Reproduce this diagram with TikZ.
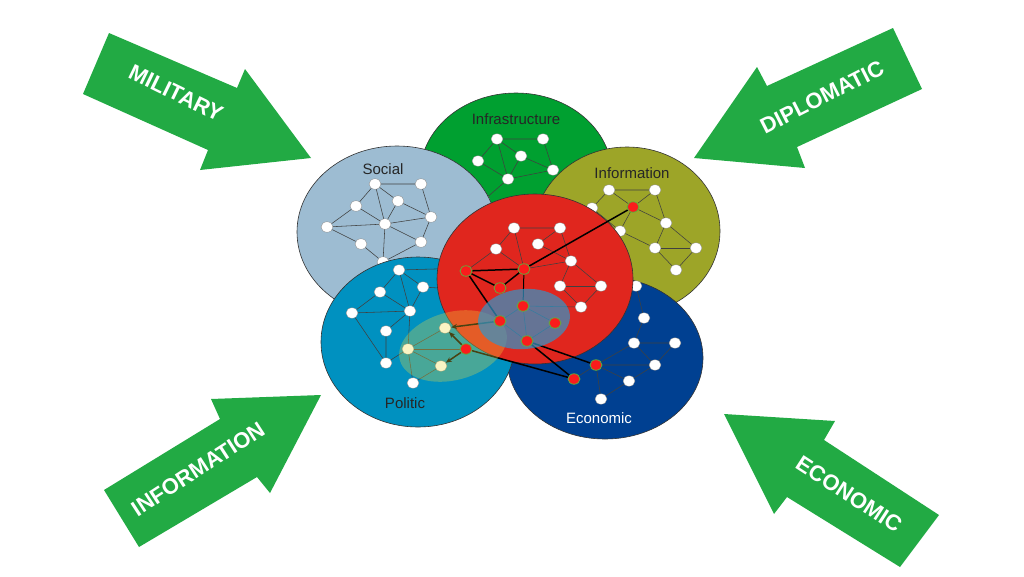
\documentclass[tikz,border=0pt]{standalone}
\usepackage{fontspec}
\setmainfont{Liberation Sans}
\usetikzlibrary{shapes.geometric,arrows.meta}
\definecolor{socblue}{RGB}{157,188,210}
\definecolor{infgreen}{RGB}{0,160,48}
\definecolor{olive}{RGB}{157,165,40}
\definecolor{hotred}{RGB}{224,38,30}
\definecolor{ecoblue}{RGB}{0,64,145}
\definecolor{polblue}{RGB}{0,145,192}
\definecolor{pushgreen}{RGB}{34,170,68}
\definecolor{nodered}{RGB}{250,28,28}
\definecolor{ringgreen}{RGB}{90,180,60}
\definecolor{suntint}{RGB}{240,220,60}
\definecolor{steeltint}{RGB}{50,150,200}
\pgfdeclarelayer{glass}
\pgfdeclarelayer{front}
\pgfsetlayers{main,glass,front}

\begin{document}
\begin{tikzpicture}[x=1pt,y=-1pt,
  area/.style={draw=black!80, line width=0.6pt},
  wn/.style={ellipse, draw=black!50, line width=0.3pt, fill=white,
    minimum width=12pt, minimum height=10.5pt, inner sep=0pt},
  rn/.style={wn, draw=ringgreen, line width=0.75pt, fill=nodered},
  lnk/.style={draw=black!75, line width=0.55pt},
  hot/.style={draw=black, line width=1.5pt},
  hotarrow/.style={hot, -{Stealth[length=6pt,width=5pt]}},
  lab/.style={font=\fontsize{15}{15}\selectfont, text=black!85},
  tag/.style={font=\bfseries\fontsize{22}{22}\selectfont, text=white},
  push/.style={fill=pushgreen}]
  \fill[white] (0,0) rectangle (1024,576);

  % the four pressures
  \fill[push] (109,33) -- (237,88) -- (245,69) -- (311,158) -- (200,170) -- (208,150) -- (83,94) -- cycle;
  \fill[push] (893,28) -- (767,86) -- (757,67) -- (694,158) -- (805,168) -- (797,147) -- (922,89) -- cycle;
  \fill[push] (104,490) -- (220,419) -- (211,399) -- (321,395) -- (270,493) -- (257,477) -- (139,547) -- cycle;
  \fill[push] (724,414) -- (835,421) -- (824,440) -- (939,515) -- (900,567) -- (787,497) -- (774,514) -- cycle;
  \node[tag, rotate=-26] (mil) at (176,93) {MILITARY};
  \node[tag, rotate=27] (dip) at (822,97) {DIPLOMATIC};
  \node[tag, rotate=33] (inf) at (198,469) {INFORMATION};
  \node[tag, rotate=-33] (eco) at (849,494) {ECONOMIC};

  % infrastructure
  \filldraw[area, fill=infgreen] (516,175) ellipse [x radius=96pt, y radius=82pt];
  \node[lab] (infra) at (516,119) {Infrastructure};
  \node[wn] (i1) at (497,139) {};
  \node[wn] (i2) at (543,139) {};
  \node[wn] (i3) at (521,156) {};
  \node[wn] (i4) at (478,161) {};
  \node[wn] (i5) at (508,179) {};
  \node[wn] (i6) at (553,170) {};
  \node[wn] (i7) at (484,200) {};
  \draw[lnk] (i4) -- (i1) -- (i2) -- (i6) -- (i5) -- (i4);
  \draw[lnk] (i1) -- (i5) -- (i3) -- (i6);
  \draw[lnk] (i1) -- (i3);
  \draw[lnk] (i5) -- (i7);

  % social
  \filldraw[area, fill=socblue] (397,232) ellipse [x radius=100pt, y radius=86pt];
  \node[lab] (soc) at (383,169) {Social};
  \node[wn] (s1) at (375,184) {};
  \node[wn] (s2) at (421,184) {};
  \node[wn] (s3) at (398,201) {};
  \node[wn] (s4) at (356,206) {};
  \node[wn] (s5) at (431,217) {};
  \node[wn] (s6) at (327,227) {};
  \node[wn] (s7) at (385,224) {};
  \node[wn] (s8) at (361,244) {};
  \node[wn] (s9) at (421,242) {};
  \node[wn] (s10) at (383,262) {};
  \draw[lnk] (s4) -- (s1) -- (s2) -- (s5) -- (s3) -- (s1);
  \draw[lnk] (s4) -- (s6) -- (s7) -- (s5) -- (s9) -- (s10) -- (s7) -- (s4);
  \draw[lnk] (s1) -- (s7) -- (s3);
  \draw[lnk] (s6) -- (s8) -- (s10);
  \draw[lnk] (s7) -- (s9);

  % information
  \filldraw[area, fill=olive] (627,231) ellipse [x radius=93pt, y radius=84pt];
  \node[lab] (info) at (632,173) {Information};
  \node[wn] (f1) at (609,190) {};
  \node[wn] (f2) at (655,190) {};
  \begin{pgfonlayer}{front}
    \node[rn] (f3) at (633,207) {};
  \end{pgfonlayer}
  \node[wn] (f4) at (666,223) {};
  \node[wn] (f5) at (620,231) {};
  \node[wn] (f6) at (655,248) {};
  \node[wn] (f7) at (696,248) {};
  \node[wn] (f8) at (676,270) {};
  \node[wn] (f9) at (592,208) {};
  \draw[lnk] (f9) -- (f1) -- (f2) -- (f4) -- (f7) -- (f8) -- (f6) -- (f4) -- (f3) -- (f1);
  \draw[lnk] (f2) -- (f3) -- (f5) -- (f9);
  \draw[lnk] (f6) -- (f7);
  \draw[lnk] (f5) -- (f6);

  % economic
  \filldraw[area, fill=ecoblue] (605,358) ellipse [x radius=98pt, y radius=81pt];
  \node[lab, text=white] (econ) at (599,418) {Economic};
  \node[wn] (e1) at (644,318) {};
  \node[wn] (e2) at (634,343) {};
  \node[wn] (e3) at (675,343) {};
  \begin{pgfonlayer}{front}
    \node[rn] (e4) at (596,365) {};
    \node[rn] (e6) at (574,379) {};
  \end{pgfonlayer}
  \node[wn] (e5) at (655,365) {};
  \node[wn] (e7) at (629,381) {};
  \node[wn] (e8) at (601,399) {};
  \node[wn] (e9) at (636,286) {};
  \draw[lnk] (e9) -- (e1) -- (e2) -- (e3) -- (e5) -- (e4) -- (e2) -- (e5) -- (e7) -- (e8) -- (e4) -- (e7);
  \draw[lnk] (e4) -- (e6);

  % politic
  \filldraw[area, fill=polblue] (418,342) ellipse [x radius=97pt, y radius=85pt];
  \node[lab] (pol) at (405,403) {Politic};
  \node[wn] (p1) at (399,270) {};
  \node[wn] (p2) at (380,292) {};
  \node[wn] (p3) at (423,287) {};
  \node[wn] (p4) at (352,313) {};
  \node[wn] (p5) at (410,311) {};
  \node[wn] (p6) at (386,331) {};
  \node[wn] (p7) at (386,363) {};
  \node[wn] (p8) at (445,328) {};
  \node[wn] (p9) at (408,349) {};
  \begin{pgfonlayer}{front}
    \node[rn] (p10) at (466,349) {};
  \end{pgfonlayer}
  \node[wn] (p11) at (441,366) {};
  \node[wn] (p12) at (413,383) {};
  \draw[lnk] (p4) -- (p2) -- (p1) -- (p3) -- (p5) -- (p1);
  \draw[lnk] (p2) -- (p5) -- (p4) -- (p7) -- (p6) -- (p5) -- (p9) -- (p12) -- (p11) -- (p9) -- (p7);
  \draw[lnk] (p9) -- (p8);
  \draw[lnk] (p9) -- (p10);
  \draw[lnk] (p1) -- (470,268);
  \draw[lnk] (p3) -- (470,290);

  % the red layer on top
  \filldraw[area, fill=hotred] (535,279) ellipse [x radius=98pt, y radius=85pt];
  \node[wn] (r1) at (514,228) {};
  \node[wn] (r2) at (560,228) {};
  \node[wn] (r3) at (538,244) {};
  \node[wn] (r4) at (496,249) {};
  \node[wn] (r5) at (571,261) {};
  \node[wn] (r9) at (560,286) {};
  \node[wn] (r10) at (601,286) {};
  \node[wn] (r12) at (581,307) {};
  \begin{pgfonlayer}{front}
    \node[rn] (r6) at (466,271) {};
    \node[rn] (r7) at (524,269) {};
    \node[rn] (r8) at (500,288) {};
    \node[rn] (r11) at (523,306) {};
    \node[rn] (r13) at (500,321) {};
    \node[rn] (r14) at (555,323) {};
    \node[rn] (r15) at (527,341) {};
  \end{pgfonlayer}
  \draw[lnk] (r6) -- (r4) -- (r1) -- (r2) -- (r5) -- (r10) -- (r12) -- (r9) -- (r5) -- (r3) -- (r2);
  \draw[lnk] (r1) -- (r7) -- (r4);
  \draw[lnk] (r7) -- (r5);
  \draw[lnk] (r9) -- (r10);
  \draw[lnk] (r13) -- (r11) -- (r14) -- (r15) -- (r13);
  \draw[lnk] (r11) -- (r12);
  \draw[lnk] (r11) -- (r15);

  % the path across the layers
  \draw[hot] (f3) -- (r7);
  \draw[hot] (r6) -- (r7);
  \draw[hot] (r6) -- (r8);
  \draw[hot] (r8) -- (r7);
  \draw[hot] (r6) -- (r13);
  \draw[hot, line width=1pt] (r7) -- (r11);
  \draw[hotarrow] (r13) -- (p8);
  \draw[hotarrow] (p10) -- (p8);
  \draw[hotarrow] (p10) -- (p11);
  \draw[hot] (p10) -- (e6) -- (r15) -- (e4);

  % highlighted zones
  \begin{pgfonlayer}{glass}
    \fill[suntint, fill opacity=0.3, rotate around={15:(453,346)}] (453,346) ellipse [x radius=55pt, y radius=34pt];
    \fill[steeltint, fill opacity=0.7, rotate around={5:(524,319)}] (524,319) ellipse [x radius=46pt, y radius=30pt];
  \end{pgfonlayer}
\end{tikzpicture}
\end{document}
